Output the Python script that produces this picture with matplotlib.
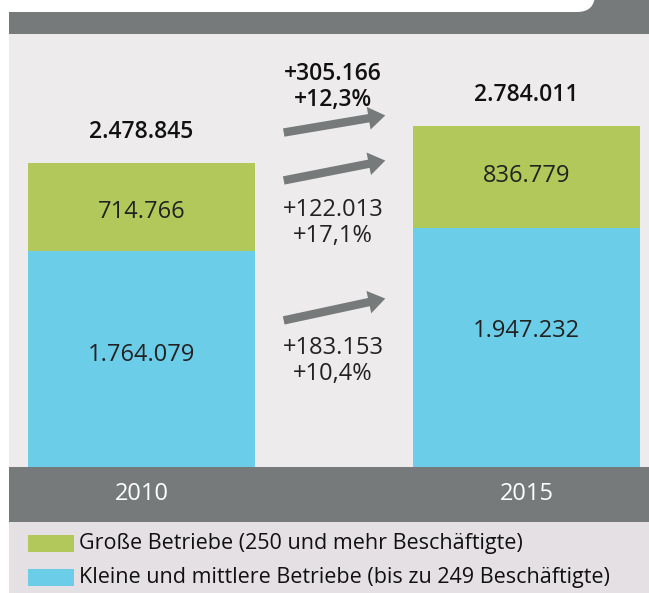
import matplotlib
matplotlib.use("Agg")
import matplotlib.pyplot as plt
from matplotlib.patches import Rectangle, FancyBboxPatch, FancyArrowPatch

plt.rcParams['font.family'] = ['Open Sans', 'DejaVu Sans']

years = ['2010', '2015']
kmu = [1764079, 1947232]
gross = [714766, 836779]
totals = [2478845, 2784011]
labels = ['Große Betriebe (250 und mehr Beschäftigte)',
          'Kleine und mittlere Betriebe (bis zu 249 Beschäftigte)']
changes = ['+305.166\n+12,3%', '+122.013\n+17,1%', '+183.153\n+10,4%']

GREEN = '#b3c85a'
BLUE = '#6ccde8'
GRAY = '#767a7a'
BG = '#eeebec'
LEG_BG = '#e4e0e4'

# where inside each segment the value label sits (fraction of segment height)
kmu_pos = [0.52, 0.57]
gross_pos = [0.44, 0.51]


def fmt(v):
    return f'{v:,}'.replace(',', '.')


W, H = 649, 593
fig = plt.figure(figsize=(W / 100, H / 100), dpi=100)
fig.patch.set_facecolor('white')

# overlay in pixel coordinates for the frame
deco = fig.add_axes([0, 0, 1, 1], zorder=0)
deco.set_xlim(0, W)
deco.set_ylim(H, 0)
deco.axis('off')

deco.add_patch(Rectangle((9, 0), W - 9, 34, color=GRAY, lw=0))
deco.add_patch(FancyBboxPatch((-40, -40), 635, 52, boxstyle='round,pad=0,rounding_size=18',
                              fc='white', ec='none'))
deco.add_patch(Rectangle((9, 34), W - 9, 433, color=BG, lw=0))
deco.add_patch(Rectangle((9, 467), W - 9, 55, color=GRAY, lw=0))
deco.add_patch(Rectangle((9, 522), W - 9, H - 522, color=LEG_BG, lw=0))

# legend
for i, (lab, col) in enumerate(zip(labels, [GREEN, BLUE])):
    y = 535 + i * 34
    deco.add_patch(Rectangle((28, y), 46, 17, color=col, lw=0))
    deco.text(79, y + 9, lab, fontsize=15.5, va='center', ha='left', color='#111111')

# chart axes
ax = fig.add_axes([9 / W, (H - 467) / H, (W - 9) / W, 433 / H], zorder=1)
ax.patch.set_visible(False)
x = [0, 1]
bw = 227 / 385
ax.bar(x, kmu, width=bw, color=BLUE, lw=0)
ax.bar(x, gross, width=bw, bottom=kmu, color=GREEN, lw=0)
ax.set_xlim(-132.5 / 385, 1 + 122.5 / 385)
ax.set_ylim(0, 433 * 8154)
ax.axis('off')

for i in x:
    ax.text(i, kmu[i] * kmu_pos[i], fmt(kmu[i]), ha='center', va='center', fontsize=17,
            color='#222222')
    ax.text(i, kmu[i] + gross[i] * gross_pos[i], fmt(gross[i]), ha='center', va='center',
            fontsize=17, color='#222222')
    ax.text(i, totals[i] + 250000, fmt(totals[i]), ha='center', va='center', fontsize=16.5,
            fontweight='semibold', color='#111111')
    ax.text(i, -27.5 * 8154, years[i], ha='center', va='center', fontsize=17, color='white')

# arrows and change labels
arrows = [((281, 133), (388, 115)), ((281, 181), (388, 160)), ((281, 321), (388, 298))]
for (p0, p1) in arrows:
    deco.add_patch(FancyArrowPatch(p0, p1, arrowstyle='simple,head_length=1.1,head_width=1.5,tail_width=0.55',
                                   mutation_scale=11, color=GRAY, lw=0, zorder=3))
fig.text(333 / W, 1 - 87 / H, changes[0], ha='center', va='center', fontsize=16.5,
         fontweight='semibold', color='#111111', linespacing=1.1, zorder=3)
fig.text(333 / W, 1 - 223 / H, changes[1], ha='center', va='center', fontsize=17,
         color='#222222', linespacing=1.1, zorder=3)
fig.text(333 / W, 1 - 361 / H, changes[2], ha='center', va='center', fontsize=17,
         color='#222222', linespacing=1.1, zorder=3)

fig.savefig('out.png', dpi=100)
